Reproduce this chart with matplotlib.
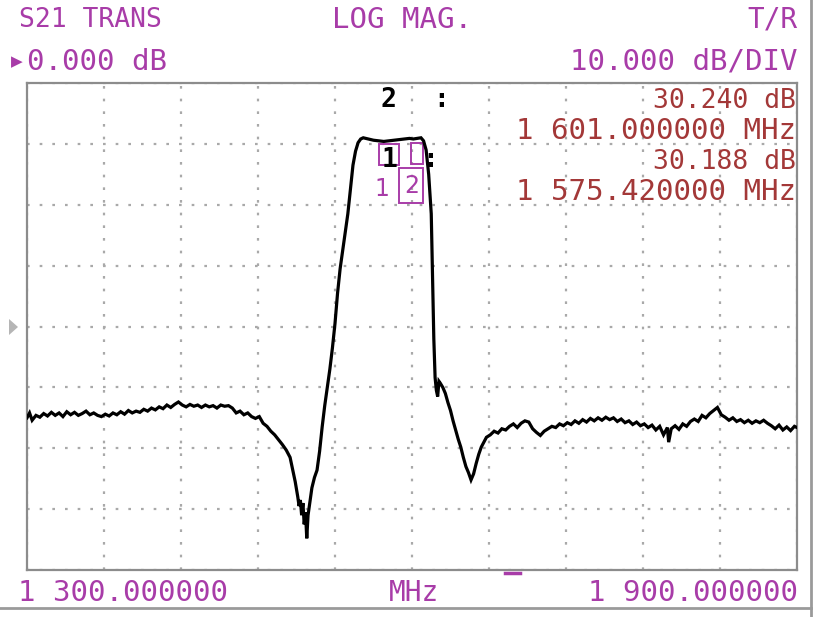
import matplotlib
matplotlib.use("Agg")
import matplotlib.pyplot as plt
from matplotlib.patches import Rectangle, Polygon
from matplotlib.lines import Line2D

# ---------------- data ----------------
freq_mhz = [
    1300, 1302, 1304, 1307, 1310, 1313, 1316, 1319, 1322, 1325, 1328, 1331, 1334, 1337, 1340,
    1343, 1346, 1349, 1352, 1355, 1358, 1361, 1364, 1367, 1370, 1373, 1376, 1379, 1382, 1385,
    1388, 1391, 1394, 1397, 1400, 1403, 1406, 1409, 1412, 1415, 1418, 1421, 1424, 1427, 1430,
    1433, 1436, 1439, 1442, 1445, 1448, 1451, 1454, 1457, 1460, 1463, 1466, 1469, 1472, 1475,
    1478, 1481, 1484, 1487, 1490, 1493, 1496, 1499, 1502, 1505, 1507, 1509, 1511, 1512, 1513,
    1514, 1515, 1516, 1517, 1518, 1519, 1520, 1521, 1522, 1524, 1526, 1528, 1530, 1532, 1534,
    1536, 1538, 1540, 1542, 1544, 1547, 1550, 1552, 1554, 1556, 1558, 1560, 1562, 1566, 1570,
    1574, 1578, 1582, 1586, 1590, 1594, 1598, 1601, 1604, 1607, 1609, 1611, 1613, 1615, 1616,
    1617, 1618, 1619, 1620, 1621, 1622, 1624, 1626, 1628, 1630, 1632, 1634, 1636, 1638, 1640,
    1642, 1644, 1646, 1648, 1650, 1652, 1654, 1656, 1658, 1661, 1664, 1667, 1670, 1673, 1676,
    1679, 1682, 1685, 1688, 1691, 1694, 1697, 1700, 1703, 1706, 1709, 1712, 1715, 1718, 1721,
    1724, 1727, 1730, 1733, 1736, 1739, 1742, 1745, 1748, 1751, 1754, 1757, 1760, 1763, 1766,
    1769, 1772, 1775, 1778, 1781, 1784, 1787, 1790, 1793, 1796, 1799, 1800, 1802, 1805, 1808,
    1811, 1814, 1817, 1820, 1823, 1826, 1829, 1832, 1835, 1838, 1841, 1844, 1847, 1850, 1853,
    1856, 1859, 1862, 1865, 1868, 1871, 1874, 1877, 1880, 1883, 1886, 1889, 1892, 1895, 1898,
    1900,
]
s21_db = [
    -15.0, -14.2, -15.4, -14.6, -14.9, -14.3, -14.7, -14.1, -14.6, -14.2, -14.8, -14.0, -14.5, -14.1, -14.6,
    -14.3, -13.9, -14.5, -14.2, -14.6, -14.8, -14.4, -14.7, -14.2, -14.5, -14.0, -14.4, -13.8, -14.2, -13.9,
    -14.1, -13.6, -13.9, -13.4, -13.7, -13.2, -13.5, -12.9, -13.3, -12.8, -12.4, -12.9, -13.2, -12.8, -13.1,
    -12.9, -13.3, -12.9, -13.2, -13.0, -13.4, -12.9, -13.1, -13.0, -13.4, -14.2, -13.9, -14.5, -14.2, -14.8,
    -15.1, -14.8, -15.9, -16.4, -17.2, -17.8, -18.6, -19.4, -20.3, -21.5, -23.5, -25.5, -28.0, -29.5, -28.5,
    -31.0, -29.0, -32.5, -30.5, -34.8, -31.0, -29.5, -28.0, -26.5, -24.8, -23.6, -20.5, -16.5, -13.0, -10.0,
    -7.0, -3.5, 0.5, 5.5, 9.5, 14.0, 18.5, 22.5, 26.5, 28.8, 30.2, 30.8, 31.0, 30.8, 30.6,
    30.5, 30.4, 30.5, 30.6, 30.7, 30.8, 30.9, 30.8, 30.9, 31.0, 30.5, 29.0, 25.0, 18.5, 8.0,
    -2.0, -8.4, -10.5, -11.5, -9.0, -9.3, -10.0, -11.0, -12.5, -13.8, -15.5, -17.0, -18.5, -19.8, -21.5,
    -23.0, -24.0, -25.2, -24.2, -22.5, -21.0, -19.8, -19.0, -18.2, -17.8, -17.2, -17.5, -16.8, -17.0, -16.4,
    -16.0, -16.6, -15.9, -15.5, -15.7, -16.8, -17.4, -17.9, -17.2, -16.8, -16.4, -16.6, -16.0, -16.3, -15.8,
    -16.1, -15.5, -15.9, -15.3, -15.7, -15.1, -15.5, -15.0, -15.4, -14.9, -15.3, -15.0, -15.6, -15.2, -15.8,
    -15.5, -16.1, -15.7, -16.3, -16.0, -16.6, -16.2, -17.0, -16.4, -17.8, -16.6, -19.0, -16.8, -16.3, -16.9,
    -16.0, -16.4, -15.6, -15.2, -15.6, -14.6, -15.0, -14.3, -13.8, -13.3, -14.5, -14.9, -15.4, -15.0, -15.6,
    -15.3, -15.8, -15.4, -15.9, -15.5, -15.8, -15.4, -15.9, -16.3, -16.8, -16.2, -17.0, -16.5, -17.1, -16.4,
    -16.6,
]

marker_ids = ["1", "2"]
marker_freq = [1575.42, 1601.0]
marker_db = [30.188, 30.240]

start_label = "1 300.000000"
stop_label = "1 900.000000"
header_left = "S21 TRANS"
header_mid = "LOG MAG."
header_right = "T/R"
ref_value_label = "0.000 dB"
scale_label = "10.000 dB/DIV"
unit_label = "MHz"

x_min, x_max, x_div = 1300, 1900, 10
y_ref, y_per_div, y_div = 0.0, 10.0, 8

# ---------------- figure ----------------
W, H = 818, 617
fig = plt.figure(figsize=(W / 100, H / 100), dpi=100)
fig.patch.set_facecolor("white")

L, R, T, B = 27, 797, 83, 570
ax = fig.add_axes([L / W, 1 - B / H, (R - L) / W, (B - T) / H])
y_min = y_ref - y_per_div * y_div / 2
y_max = y_ref + y_per_div * y_div / 2
ax.set_xlim(x_min, x_max)
ax.set_ylim(y_min, y_max)
ax.set_xticks([x_min + i * (x_max - x_min) / x_div for i in range(x_div + 1)])
ax.set_yticks([y_min + i * y_per_div for i in range(y_div + 1)])
ax.tick_params(length=0, labelbottom=False, labelleft=False)
ax.grid(True, color="#a9a9a9", linestyle=(0, (1.2, 4.5)), linewidth=1.6)
for sp in ax.spines.values():
    sp.set_color("#8c8c8c")
    sp.set_linewidth(1.6)

ax.plot(freq_mhz, s21_db, color="black", linewidth=2.3, solid_joinstyle="miter", zorder=5)

# pixel -> data helpers for marker decoration
mhz_per_px = (x_max - x_min) / (R - L)
db_per_px = (y_max - y_min) / (B - T)

mag = "#a83ca8"
dred = "#a33838"

def box(xd, yd, dx0, dy0, w, h):
    ax.add_patch(Rectangle((xd + dx0 * mhz_per_px, yd - (dy0 + h) * db_per_px),
                           w * mhz_per_px, h * db_per_px, fill=False,
                           edgecolor=mag, linewidth=1.4, zorder=4, clip_on=False))

# marker 1
f1, d1 = marker_freq[0], marker_db[0]
box(f1, d1, -1, 1, 20, 21)
ax.text(f1 + 1 * mhz_per_px, d1 - 46 * db_per_px, marker_ids[0], color=mag,
        fontsize=17, family="DejaVu Sans", ha="center", va="center", zorder=6)
# marker 2 (active)
f2, d2 = marker_freq[1], marker_db[1]
box(f2, d2, -2, 1, 12, 21)
box(f2, d2, -14, 26, 24, 35)
ax.text(f2 - 2 * mhz_per_px, d2 - 44 * db_per_px, marker_ids[1], color=mag,
        fontsize=17, family="DejaVu Sans", ha="center", va="center", zorder=6)

mono = "DejaVu Sans Mono"

def ftxt(x, y, s, color, size=19, ha="left", weight="normal", family=mono):
    fig.text(x / W, 1 - y / H, s, color=color, fontsize=size, ha=ha, va="center",
             family=family, weight=weight)

# header
ftxt(19, 20, header_left, mag, size=19)
ftxt(402, 20, header_mid, mag, ha="center", size=21)
ftxt(798, 20, header_right, mag, ha="right", size=20)
ftxt(11, 62, "\u25b6", mag, size=11, family="DejaVu Sans")
ftxt(27, 62, ref_value_label, mag, size=21)
ftxt(798, 62, scale_label, mag, ha="right", size=21)

# marker readouts
ftxt(388, 100, marker_ids[1], "black", size=19, weight="bold", ha="center")
ftxt(441, 100, ":", "black", size=19, weight="bold", ha="center")
ftxt(390, 160, marker_ids[0], "black", size=19, weight="bold", ha="center")
ftxt(430, 160, ":", "black", size=19, weight="bold", ha="center")
ftxt(796, 101, f"{marker_db[1]:.3f} dB", dred, ha="right", size=19)
ftxt(796, 131, "1 {:.6f} MHz".format(marker_freq[1] - 1000), dred, ha="right", size=21)
ftxt(796, 162, f"{marker_db[0]:.3f} dB", dred, ha="right", size=19)
ftxt(796, 192, "1 {:.6f} MHz".format(marker_freq[0] - 1000), dred, ha="right", size=21)

# footer
ftxt(18, 593, start_label, mag, size=21)
ftxt(414, 593, unit_label, mag, ha="center", size=20)
ftxt(798, 593, stop_label, mag, ha="right", size=21)

# reference position arrow and misc screen decorations
fig.patches.append(Polygon([(9 / W, 1 - 319 / H), (9 / W, 1 - 335 / H), (18 / W, 1 - 327 / H)],
                           closed=True, transform=fig.transFigure, facecolor="#b5b5b5",
                           edgecolor="none"))
fig.add_artist(Line2D([505 / W, 520 / W], [1 - 573 / H, 1 - 573 / H], color=mag,
                      linewidth=2.5, transform=fig.transFigure))
fig.add_artist(Line2D([811 / W, 811 / W], [0, 1], color="#9a9a9a", linewidth=2,
                      transform=fig.transFigure))
fig.add_artist(Line2D([0, 811 / W], [1 - 608 / H, 1 - 608 / H], color="#9a9a9a", linewidth=2,
                      transform=fig.transFigure))

fig.savefig("out.png", dpi=100, facecolor="white")
